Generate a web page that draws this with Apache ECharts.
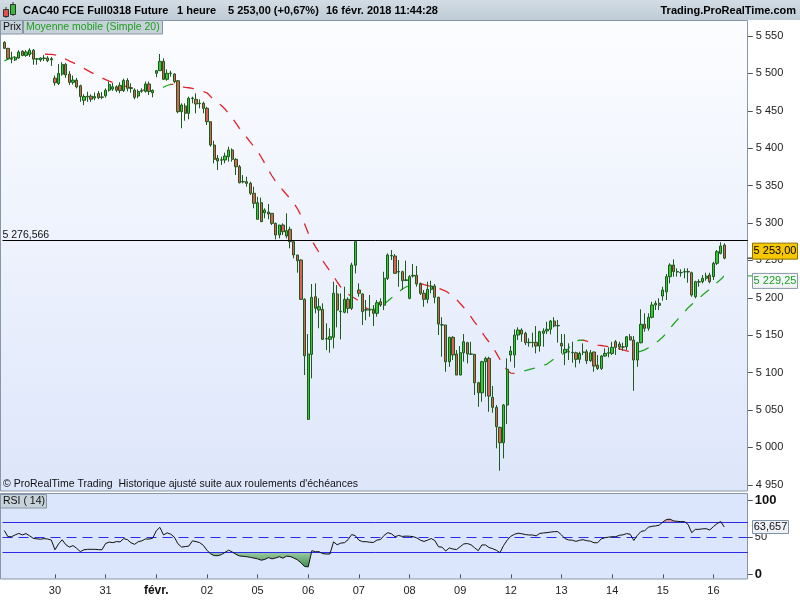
<!DOCTYPE html>
<html><head><meta charset="utf-8">
<script src="https://cdn.jsdelivr.net/npm/echarts@6/dist/echarts.min.js"></script>
<style>html,body{margin:0;padding:0;background:#fff}#c{width:800px;height:600px}</style>
</head><body><div id="c"></div>
<script>
// ---------- DATA ----------
const dayLabels = ['29','30','31','févr.','02','05','06','07','08','09','12','13','14','15','16'];
const barsPerDay = 14;
const lastDayBars = 4;

const open = [
 5541.5,5533.5,5519.5,5518,5520.5,5529.5,5524,5525,5531,5519,5518,5520,5520.5,5518,
 5493.5,5486.5,5499,5512,5499,5488,5491,5483.5,5464,5469.5,5469.5,5467,5473,5468,
 5470,5477.5,5479,5482,5484,5477,5490.5,5480.5,5477.8,5469.7,5476,5476,5485.8,5474,
 5500.1,5503.6,5516.1,5492.1,5500,5499.2,5490.2,5448.8,5456.4,5446.6,5466.5,5465.3,5459.5,5460,
 5453.3,5435.4,5404.2,5386.5,5384,5384.2,5388.6,5397.6,5385.1,5375.2,5355,5355.2,5353,5339.7,
 5304.9,5327.1,5313.6,5314.7,5312.9,5299.5,5283.9,5297.3,5282.6,5291.5,5275,5257.2,5250.5,5197.9,
 5037.5,5124.4,5201.4,5183.6,5184.6,5145,5144.4,5147.1,5205.1,5182,5180.6,5197.9,5185.9,5243.5,
 5210.4,5205.1,5184,5183.5,5183.6,5179.2,5194.7,5190.1,5226,5256,5255.8,5235,5234.9,5223,
 5199.3,5229,5230,5218.4,5206,5198,5211.3,5215.7,5200.6,5164,5163.6,5114.5,5147.1,5124.8,
 5096.7,5126.5,5139.9,5125,5124.4,5086.4,5073,5114.5,5119,5066.9,5053.5,5026.8,5006.2,5056.6,
 5123.5,5123.5,5150.2,5156.9,5152.5,5140.5,5140,5140.5,5135.5,5152.5,5155.6,5157.9,5168.9,5163,
 5139.1,5126.5,5128,5127,5126.5,5117.7,5127.5,5127.9,5115.8,5127.5,5110,5105.6,5122.1,5126,
 5125.7,5141.2,5138,5134.5,5134.6,5147.9,5143.5,5116.8,5139.9,5164.5,5159.2,5173.9,5190.3,5192.6,
 5202.4,5208,5228.2,5243.8,5235,5233.5,5234.5,5235,5233.5,5201.4,5221,5221.5,5226,5230.4,
 5228.2,5246.1,5259.4,5270.5
];
const close = [
 5533.5,5520,5519,5521.5,5528.5,5524,5528.5,5531,5519,5519.5,5520.5,5520.5,5517,5519.5,
 5487.5,5500,5512,5498,5488,5491,5482,5469,5469,5468.5,5465.5,5469,5467.5,5468.5,
 5477.5,5485,5482,5477.5,5477,5490.5,5480,5480,5468,5475.8,5477,5485.8,5476,5477,
 5503.6,5516.1,5492.1,5500.1,5500.5,5488.9,5448.8,5457.7,5446.6,5466.7,5467,5459.1,5460,5453.3,
 5435.4,5404.2,5385.1,5382.8,5384.5,5389.5,5397.6,5385.1,5375.2,5353.8,5355.5,5353,5339.7,5326.3,
 5327.1,5301.7,5317.3,5312,5299.5,5283.9,5297.3,5288.3,5289.7,5275,5257.2,5249.6,5197.9,5122.5,
 5124.8,5200.6,5185.9,5188,5144.4,5145.5,5147.9,5206,5183.6,5181.5,5197.9,5185.9,5243.8,5275,
 5206,5181.5,5183.5,5184,5179.2,5193.4,5190.3,5226,5257.2,5256.5,5232.7,5234.5,5222.8,5224,
 5228.2,5230,5218.4,5206,5198,5211.3,5215.7,5200.6,5164.9,5163.5,5114.5,5147.1,5123.5,5096.7,
 5126.5,5141.2,5124.8,5124.5,5086.4,5073,5114.5,5119,5068.6,5053.5,5027.6,5006.2,5056.6,5104.4,
 5128.8,5150.2,5156.9,5151.5,5139.9,5140,5140.5,5135.5,5154.6,5155.6,5157.9,5168.9,5162.2,5162.5,
 5135.5,5131,5127.5,5126.5,5117.7,5125.7,5127,5115.8,5126.5,5108.7,5105.6,5122.1,5125.7,5126.5,
 5133.7,5133.7,5134,5134,5147.9,5143.5,5116.8,5139.9,5164.5,5159.2,5173.9,5190.3,5192.6,5190,
 5210.4,5228.2,5243.8,5234.9,5234.5,5233.9,5235,5234.5,5203.7,5221.5,5221.5,5226,5229,5221.5,
 5246.1,5261.6,5269.2,5253
];
const high = [
 5543,5534,5529,5523,5531,5531,5531,5533.5,5532.5,5520.5,5521.5,5524.5,5523,5522,
 5497,5512.5,5515,5514,5503,5497,5494,5485,5472,5475.5,5472,5474.5,5476.5,5475,
 5480,5489,5487,5484,5488,5493,5493.5,5486.7,5480,5478.6,5480,5489,5489,5478.6,
 5504.5,5525.9,5520.2,5505.4,5503.6,5500.1,5491.1,5460,5460,5468.8,5468.8,5473.3,5465.3,5462.1,
 5455.4,5435.4,5410,5390.9,5388.6,5394,5402,5399.8,5386.5,5377.5,5364.1,5361.9,5355.2,5348.5,
 5335.1,5334,5319.6,5325.4,5312.9,5300.3,5297.3,5299.5,5312.9,5295,5275.9,5257.2,5251.4,5199.3,
 5151.5,5218.4,5219.3,5199.3,5192.6,5165.9,5159.2,5221.5,5217,5205.9,5214.8,5200.6,5246.9,5276.5,
 5219.3,5206,5197,5203.7,5190.3,5197,5199.3,5234.8,5259.4,5263.8,5258.5,5250.5,5236.2,5249.6,
 5230.4,5245.1,5242.5,5220.1,5210.4,5221.5,5222.8,5218.4,5201.4,5174,5163.6,5147.9,5148.8,5130.2,
 5135.5,5151.5,5141.2,5141.2,5124.8,5087.8,5115.8,5121.2,5121.2,5082,5056.6,5027.6,5058,5119,
 5135.5,5157.9,5160.5,5159.2,5154.6,5145.8,5153.3,5162.2,5156,5159.2,5168,5170.3,5174,5170.3,
 5151.5,5151.5,5139.1,5141.2,5127.9,5127.9,5139.1,5131,5130.2,5127.9,5123.5,5123.5,5132.4,5133.7,
 5141.2,5143.5,5141.2,5140,5148.8,5151.5,5148.8,5141.2,5184.6,5179.2,5179.2,5194.7,5196.1,5199.3,
 5214.8,5231.8,5246.1,5251.4,5239.4,5238,5239.4,5239.4,5234.9,5222.8,5224.7,5230.4,5233.5,5233.5,
 5248.2,5263.9,5274.1,5272.8
];
const low = [
 5532.5,5518,5513.5,5516.5,5519.5,5523,5522,5522,5511.5,5511.5,5515.5,5516.5,5515,5510,
 5483.5,5484.5,5497,5494,5484.5,5485,5480,5462,5457.5,5462,5462,5464,5465.5,5465.5,
 5467.5,5475.5,5476.5,5475,5473.5,5475,5476,5474.2,5465.4,5466.7,5474.2,5474.2,5471,5468,
 5494.8,5503.6,5491.1,5490.2,5495.6,5486.7,5446.6,5426.6,5436.7,5438.6,5460,5446.6,5453.3,5446.6,
 5431,5402,5379.8,5370.8,5377.5,5379.8,5382,5382,5364.1,5353,5353,5348.5,5337.4,5319.6,
 5304.9,5301.7,5306.2,5304.9,5297.3,5278.1,5279.5,5283.9,5279.5,5266.1,5252.8,5233.5,5197,5096.7,
 5036.6,5092.3,5179.2,5159.2,5143.5,5130.2,5126.5,5132.4,5160.5,5144.4,5179.2,5179.2,5183.6,5232.5,
 5201.4,5163.6,5170,5174.7,5162.2,5174.7,5188,5183.6,5223.7,5250.5,5231.8,5214.8,5210.4,5222.8,
 5197.9,5227.3,5214.8,5203.7,5188,5192.6,5206,5192.6,5150.2,5121.2,5101.1,5107.8,5116.8,5096.7,
 5096.7,5114.5,5112.3,5123.5,5070,5054.3,5061,5067.7,5047.6,5046.3,4998.7,4968.8,4985.3,5031.2,
 5114.5,5106.5,5143.5,5141.2,5136.8,5134.6,5133.7,5125.7,5128,5134.6,5151.5,5151.1,5160.5,5140,
 5125.7,5110,5116.8,5113.2,5107,5112.3,5123.5,5111.4,5114.5,5101.1,5103.4,5103.4,5121.2,5120.4,
 5123.5,5123.5,5130.2,5129.2,5130.2,5143.5,5075.7,5107.8,5139.1,5154.6,5156,5172.5,5183.6,5183.6,
 5196.1,5197,5219.3,5228.2,5228.2,5228.2,5226,5220.1,5201.4,5199.3,5214.8,5219.3,5222.8,5219.3,
 5223.7,5243.8,5258,5251.4
];
const ma20 = [
 5516.5,5519,5520.8,5522.6,5524.2,5525.4,5526.4,5527.1,5527.1,5526.8,
 5526.3,5525.9,5525.6,5525.4,5524.6,5523,5521.1,5519,5516.5,5514.4,
 5511.9,5509.1,5506.6,5504.1,5501.4,5498.8,5496.3,5493.8,5491.7,5489.7,
 5487.9,5486.3,5484.7,5483.4,5482.1,5481,5479.9,5479,5478,5477.2,
 5476.6,5476.8,5478.2,5479.5,5481.5,5483.8,5485.4,5485.3,5484,5482.6,
 5481.4,5480.8,5480,5479.1,5478,5475.8,5474,5469.1,5464.4,5461,
 5457,5452.4,5446.4,5440.3,5433.6,5426.6,5420.3,5414.3,5408.2,5402.2,
 5396.2,5388.2,5379.5,5370.8,5362.8,5355.4,5349.4,5343.7,5338.1,5332.7,
 5326.7,5319.3,5310,5298.6,5286.6,5276.6,5268.5,5260.5,5249.8,5242.5,
 5235.8,5229.1,5221.1,5214.4,5209,5205,5201.7,5199,5195.7,5192.3,
 5186.3,5184.3,5184.6,5185.9,5188.3,5191.7,5195.7,5199.7,5203,5207.7,
 5211.7,5214.4,5216.4,5218.4,5219.1,5219.1,5217.7,5216.4,5215.3,5214.4,
 5212.8,5210.8,5209,5205.7,5201.7,5197.7,5192.3,5187,5180.9,5174.5,
 5167.6,5160.9,5154.2,5146.9,5140.8,5134.2,5126.1,5117.5,5109.4,5102.7,
 5099.4,5099,5099.9,5101,5102.7,5104.1,5105.4,5106.1,5107,5109.4,
 5111.4,5114.8,5118.8,5120.8,5123.5,5126.8,5132.8,5138.8,5142.6,5143.2,
 5143.5,5141.9,5140.2,5138.2,5136.8,5136.2,5135.5,5134.5,5133.5,5132.5,
 5131.8,5130.4,5129.1,5127.9,5126.8,5127.1,5128.6,5130.4,5133.2,5136.2,
 5139.5,5143.1,5147.5,5152.9,5159.2,5164.9,5170.5,5175.9,5181.2,5186.7,
 5191,5195.3,5199,5203.7,5207.7,5211.7,5216.4,5220.4,5224.4,5229.25
];
const rsi14 = [
 59,50.6,50.6,53,55,53,54.8,51.8,48.4,47.7,
 47.2,48,47.5,46,33,41,46.5,39.8,36.6,38.6,
 35,30.5,33,33.6,33.6,33.6,33.2,33,41.5,43.4,
 42.6,44,43.7,48,46.7,42.5,40.3,43.8,45,47.6,
 47.4,48.5,58.5,63.2,53,55.8,54,50,41,36.7,
 37.3,38,45,44,42.6,39,32.5,27.5,25.2,25,
 26.5,29.5,32.5,30,27,24.7,24.2,23.7,22.8,21.8,
 20.8,19,20,22.5,20.8,22,23.7,21.7,24.4,24,
 22,19.5,15.5,10.5,10,31.8,30.4,30.4,27.8,27.3,
 27.3,43.7,39.7,42,42.5,46.5,53.5,52,46,43.9,
 43.9,43.2,42.8,46.1,46.8,52.5,56,54.5,50.6,52.3,
 51,51.4,51.2,50.7,49,46,44.2,46,48.2,45.4,
 37.1,36.5,31.3,35.5,34,33.3,37.2,40.9,41.4,39.7,
 35.7,31.8,39.5,39.5,36,34.5,32.3,29.1,38.8,46,
 51.2,53.8,55.3,54.6,53.5,52.9,52.9,51.7,55,55.6,
 56.1,56.8,57.4,57.4,53,48,46.2,45.9,44.3,45.8,
 46.6,45.2,44.6,42.5,42.5,47.7,49.2,50,50.6,50.6,
 52.5,53.1,54.8,53.9,45.5,52.5,57.7,58.7,63.3,64.6,
 65.1,66.1,70.3,73.7,74.2,71.8,71.3,70.9,70.9,67,
 56,60.5,60.5,61.2,61.4,59.7,64.2,68.2,70.9,63.657
];
const resistanceLevel = 5276.566;
const rsiLevels = [70, 50, 30];
const headerTexts = ['CAC40 FCE Full0318 Future', '1 heure', '5 253,00 (+0,67%)', '16 févr. 2018 11:44:28'];

// ---------- BUILD ----------
const FONT = '"Liberation Sans", Arial, sans-serif';
const N = open.length;
const PAD = 6;
const cats = [];
dayLabels.forEach((d, k) => {
  const n = k === dayLabels.length - 1 ? lastDayBars : barsPerDay;
  for (let h = 0; h < n; h++) cats.push(d + ' ' + (8 + h) + 'h');
});
for (let i = 0; i < PAD; i++) cats.push('');

function fr(v, d) {
  const s = Number(v).toFixed(d).split('.');
  s[0] = s[0].replace(/\B(?=(\d{3})+(?!\d))/g, ' ');
  return s.join(',');
}
const GREEN = '#1fa51f', RED = '#e2222a';
const pieces = [];
let start = 0, dir = ma20[1] >= ma20[0];
for (let i = 1; i < N - 1; i++) {
  const d = ma20[i + 1] >= ma20[i];
  if (d !== dir) { pieces.push({gte: start, lt: i, color: dir ? GREEN : RED}); start = i; dir = d; }
}
pieces.push({gte: start, lte: N - 1, color: dir ? GREEN : RED});

const candles = open.map((o, i) => [o, close[i], low[i], high[i]]);
const lowBase = rsi14.map(v => Math.min(v, 30));
const lowFill = rsi14.map(v => 30 - Math.min(v, 30));
const highBase = rsi14.map(() => 70);
const highFill = rsi14.map(v => Math.max(v, 70) - 70);

const showTick = (idx) => idx > 0 && idx < N && idx % barsPerDay === 0;
const BW = 745.3;

const chart = echarts.init(document.getElementById('c'));
const option = {
  animation: false,
  backgroundColor: '#ffffff',
  textStyle: {fontFamily: FONT},
  grid: [
    {left: 2.5, top: 35.98, width: BW, height: 448.8},
    {left: 2.5, top: 500, width: BW, height: 74.3}
  ],
  xAxis: [
    {type: 'category', gridIndex: 0, data: cats, show: false, boundaryGap: true},
    {type: 'category', gridIndex: 1, data: cats, boundaryGap: true, offset: 4.7,
     axisLine: {show: false},
     axisTick: {show: true, interval: showTick, alignWithLabel: true, length: 4, lineStyle: {color: '#555'}},
     axisLabel: {interval: showTick, color: '#222', fontSize: 11, margin: 6, fontFamily: FONT,
       formatter: (v) => { const d = v.split(' ')[0]; return d === 'févr.' ? '{b|' + d + '}' : d; },
       rich: {b: {fontWeight: 'bold', fontSize: 12, color: '#111', fontFamily: FONT}}},
     splitLine: {show: false}}
  ],
  yAxis: [
    {type: 'value', gridIndex: 0, position: 'right', min: 4950, max: 5550, interval: 50,
     axisLine: {show: false}, axisTick: {show: true, length: 5, lineStyle: {color: '#555'}},
     axisLabel: {formatter: v => fr(v, 0), color: '#222', fontSize: 11, margin: 8, fontFamily: FONT},
     splitLine: {show: false}},
    {type: 'value', gridIndex: 1, position: 'right', min: 0, max: 100, interval: 50,
     axisLine: {show: false}, axisTick: {show: true, length: 5, lineStyle: {color: '#555'}},
     axisLabel: {margin: 7, fontFamily: FONT,
       formatter: v => v === 50 ? '{n|50}' : '{b|' + v + '}',
       rich: {n: {fontSize: 11, color: '#222', fontFamily: FONT}, b: {fontSize: 13, fontWeight: 'bold', color: '#111', fontFamily: FONT}}},
     splitLine: {show: false}}
  ],
  visualMap: [{type: 'piecewise', show: false, dimension: 0, seriesIndex: 1, pieces: pieces}],
  series: [
    {type: 'candlestick', xAxisIndex: 0, yAxisIndex: 0, data: candles, barWidth: 2.8, z: 4,
     itemStyle: {color: '#36c936', color0: '#e25c55', borderColor: '#1d5a1d', borderColor0: '#1d5a1d', borderWidth: 1},
     markLine: {silent: true, symbol: 'none', animation: false,
       lineStyle: {color: '#000', width: 1, type: 'solid'},
       label: {show: true, position: 'insideStartTop', formatter: fr(resistanceLevel, 3), color: '#111', fontSize: 10.5, fontFamily: FONT, distance: [0, 0]},
       data: [{yAxis: resistanceLevel}]}},
    {type: 'line', xAxisIndex: 0, yAxisIndex: 0, data: ma20, symbol: 'none', showSymbol: false, z: 3,
     lineStyle: {width: 1.3, type: [11, 10]}},
    {type: 'line', xAxisIndex: 1, yAxisIndex: 1, data: lowBase, stack: 'lo', symbol: 'none', lineStyle: {width: 0, opacity: 0}, z: 1, silent: true},
    {type: 'line', xAxisIndex: 1, yAxisIndex: 1, data: lowFill, stack: 'lo', symbol: 'none', lineStyle: {width: 0, opacity: 0}, z: 1, silent: true,
     areaStyle: {opacity: 1, color: new echarts.graphic.LinearGradient(0, 0, 0, 1, [{offset: 0, color: '#9fcea4'}, {offset: 1, color: '#3f8c50'}])}},
    {type: 'line', xAxisIndex: 1, yAxisIndex: 1, data: highBase, stack: 'hi', symbol: 'none', lineStyle: {width: 0, opacity: 0}, z: 1, silent: true},
    {type: 'line', xAxisIndex: 1, yAxisIndex: 1, data: highFill, stack: 'hi', symbol: 'none', lineStyle: {width: 0, opacity: 0}, z: 1, silent: true,
     areaStyle: {opacity: 1, color: '#d99aa4'}},
    {type: 'line', xAxisIndex: 1, yAxisIndex: 1, data: rsi14, symbol: 'none', z: 5,
     lineStyle: {color: '#111', width: 1},
     markLine: {silent: true, symbol: 'none', animation: false, label: {show: false},
       data: rsiLevels.map(l => ({yAxis: l, lineStyle: {color: '#2b2be8', width: 1, type: l === 50 ? [10, 6] : 'solid'}}))}}
  ]
};
chart.setOption(option);

// ---------- FRAME / TEXT ----------
const py = v => chart.convertToPixel({yAxisIndex: 0}, v);
const ry = v => chart.convertToPixel({yAxisIndex: 1}, v);
const lastClose = close[N - 1], lastMA = ma20[N - 1], lastRSI = rsi14[N - 1];
const yC = py(lastClose), yM = py(lastMA), yR = ry(lastRSI);
const bold11 = 'bold 11px ' + FONT, reg11 = '11px ' + FONT, small = '10.5px ' + FONT;
const txt = (t, x, y, font, fill, align) => ({type: 'text', z: 20, style: {text: t, x: x, y: y, font: font, fill: fill, align: align || 'left', verticalAlign: 'middle'}});
const rect = (x, y, w, h, fill, stroke, z) => ({type: 'rect', z: z === undefined ? -1 : z, shape: {x: x, y: y, width: w, height: h}, style: {fill: fill, stroke: stroke || null, lineWidth: 1}});

const els = [
  rect(0, 0, 800, 20, new echarts.graphic.LinearGradient(0, 0, 0, 1, [{offset: 0, color: '#d2dce4'}, {offset: 1, color: '#bfccd6'}])),
  rect(0.5, 20.5, 747, 470.5, new echarts.graphic.LinearGradient(0, 0, 0, 1, [{offset: 0, color: '#fcfdff'}, {offset: 1, color: '#dde6fa'}]), '#8797a8'),
  rect(0.5, 493.5, 747, 85.5, '#dbe5fb', '#8797a8'),
  // icon
  {type: 'line', z: 20, shape: {x1: 6, y1: 7, x2: 6, y2: 18}, style: {stroke: '#333', lineWidth: 1}},
  rect(3.5, 9.5, 5, 7, '#e05050', '#333', 21),
  {type: 'line', z: 20, shape: {x1: 13, y1: 2, x2: 13, y2: 16}, style: {stroke: '#333', lineWidth: 1}},
  rect(10.5, 4.5, 5, 10, '#32c032', '#333', 21),
  txt(headerTexts[0], 23, 10.5, bold11, '#000'),
  txt(headerTexts[1], 177, 10.5, bold11, '#000'),
  txt(headerTexts[2], 228, 10.5, bold11, '#000'),
  txt(headerTexts[3], 326, 10.5, bold11, '#000'),
  txt('Trading.ProRealTime.com', 796, 10.5, bold11, '#000', 'right'),
  rect(0.5, 20.5, 22, 13.5, '#c6d1d9', '#8797a8', 10),
  txt('Prix', 3, 27.5, small, '#111'),
  rect(23.5, 20.5, 139, 13.5, '#c6d1d9', '#8797a8', 10),
  txt('Moyenne mobile (Simple 20)', 26, 27.5, small, '#1e9e1e'),
  txt('© ProRealTime Trading  Historique ajusté suite aux roulements d\'échéances', 3, 484.5, small, '#111'),
  rect(0.5, 494.5, 46, 13.5, '#c6d1d9', '#8797a8', 10),
  txt('RSI ( 14)', 3, 501.5, small, '#111'),
  // last price tag
  {type: 'line', z: 20, shape: {x1: 747.5, y1: yC, x2: 752.5, y2: yC}, style: {stroke: '#000', lineWidth: 1}},
  rect(752.5, yC - 15, 45, 16, '#f7c800', '#8a7000', 20),
  txt(fr(lastClose, 2), 775, yC - 7, reg11, '#000', 'center'),
  // MA tag
  {type: 'line', z: 20, shape: {x1: 747.5, y1: yM, x2: 752.5, y2: yM}, style: {stroke: '#1e9e1e', lineWidth: 1}},
  rect(752.5, yM - 2.5, 45, 15, '#f2f5f8', '#8797a8', 20),
  txt(fr(lastMA, 2), 775, yM + 5, reg11, '#1e9e1e', 'center'),
  // RSI tag
  rect(752.5, yR - 6.5, 36, 13, '#eef2f8', '#7f93a6', 20),
  txt(fr(lastRSI, 3), 770.5, yR, reg11, '#111', 'center')
];
chart.setOption({graphic: {elements: els}});
</script>
</body></html>
